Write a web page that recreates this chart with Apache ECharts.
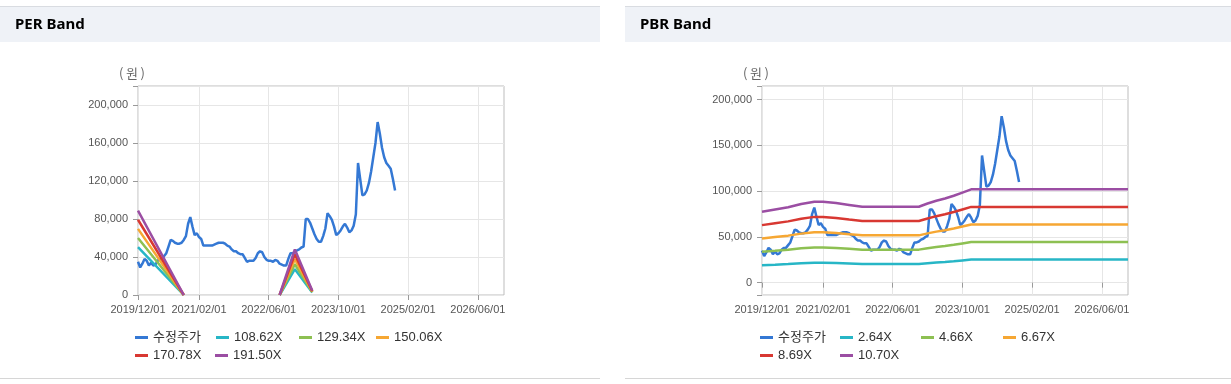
<!DOCTYPE html>
<html><head><meta charset="utf-8">
<script src="https://cdn.jsdelivr.net/npm/echarts@6/dist/echarts.min.js"></script>
<style>html,body{margin:0;padding:0;background:#fff;}#c{width:1231px;height:384px;}</style>
</head><body><div id="c"></div>
<script>
// ---- categories: half-month steps from 2019/12/01 to 2026/12/01 ----
const dates = [];
for (let y = 2019, m = 12; ; ) {
  const mm = String(m).padStart(2, '0');
  dates.push(y + '/' + mm + '/01');
  if (y === 2026 && m === 12) break;
  dates.push(y + '/' + mm + '/16');
  m++; if (m > 12) { m = 1; y++; }
}
const xTickLabels = ['2019/12/01','2021/02/01','2022/06/01','2023/10/01','2025/02/01','2026/06/01'];

// ---- adjusted price (수정주가), one value per half month from 2019/12/01 ----
const price = [
 35000,29000,33000,38000,36000,31000,34000,31000,32000,36000,
 38000,38000,41000,44000,51000,58000,57000,55000,54000,54000,
 55000,58000,62000,75000,82000,72000,63000,65000,61000,59000,
 52000,52000,52000,52000,52000,53000,54000,55000,55000,55000,
 54000,52000,51000,48000,46000,46000,44000,43000,43000,39000,
 35000,36000,36000,36000,39000,44000,46000,45000,40000,37000,
 36000,36000,35000,37000,36000,33000,32000,31000,31000,38000,
 44000,44000,45000,47000,48000,50000,51000,80000,80000,76000,
 70000,64000,59000,56000,56000,62000,70000,86000,83000,79000,
 72000,63000,65000,68000,72000,75000,71000,66000,68000,73000,
 85000,139000,122000,105000,106000,110000,118000,130000,145000,160000,
 182000,170000,155000,145000,139000,136000,133000,122000,110000
];

// ---- PER band (sparse points) ----
const perDates = ['2019/12/01','2020/10/16','2021/06/01','2022/08/16','2022/12/01','2023/04/01'];
const per108 = [50400, 0, null, 0, 27200, 2600];
const per129 = [60000, 0, null, 0, 32400, 3100];
const per150 = [69600, 0, null, 0, 37600, 3600];
const per170 = [79200, 0, null, 0, 42800, 4100];
const per191 = [88800, 0, null, 0, 48000, 4600];
const perNames = ['108.62X','129.34X','150.06X','170.78X','191.50X'];

// ---- PBR band (sparse points) ----
const pbrDates = ['2019/12/01','2020/03/01','2020/06/01','2020/09/01','2020/12/01','2021/02/01','2021/05/01','2021/08/01','2021/11/01','2022/12/01','2023/02/01','2023/04/01','2023/06/01','2023/08/01','2023/10/01','2023/12/01','2026/12/01'];
const pbr264 = [19100,19700,20400,21200,21800,21800,21500,21000,20500,20500,21300,22100,22700,23400,24300,25200,25200];
const pbr466 = [33800,34800,35900,37500,38500,38500,37900,37000,36100,36100,37700,39000,40100,41400,42900,44400,44400];
const pbr667 = [48300,49900,51400,53600,55200,55200,54200,53000,51700,51700,53900,55800,57400,59200,61400,63600,63600];
const pbr869 = [62900,65000,67000,69800,71900,71900,70700,69000,67400,67400,70200,72700,74700,77200,80000,82800,82800];
const pbr1070 = [77500,80000,82500,86000,88500,88500,87000,85000,83000,83000,86500,89500,92000,95000,98500,102000,102000];
const pbrNames = ['2.64X','4.66X','6.67X','8.69X','10.70X'];

const priceName = '수정주가';
const bandColors = ['#27b6c6','#8dc052','#f6a733','#d83832','#9b4ea3'];
const priceColor = '#3478d4';
const LW = 2.5;

const FONT = '"Liberation Sans", "Noto Sans CJK KR", sans-serif';
const fmt = v => String(v).replace(/\B(?=(\d{3})+(?!\d))/g, ',');
const tickFn = (i, v) => xTickLabels.indexOf(v) >= 0;

function zip(ds, vs) { return ds.map((d, i) => [d, vs[i]]); }

const chart = echarts.init(document.getElementById('c'), null, {renderer: 'canvas'});

function xAxis(gi) {
  return {
    type: 'category', gridIndex: gi, data: dates, boundaryGap: false,
    axisLine: {show: false},
    axisTick: {show: true, interval: tickFn, length: 5, lineStyle: {color: '#999'}},
    axisLabel: {interval: tickFn, color: '#555', fontSize: 11, fontFamily: FONT, margin: 9},
    splitLine: {show: true, interval: tickFn, lineStyle: {color: '#e6e6e6', width: 1}}
  };
}
function yAxis(gi, min, max, interval, step) {
  const o = {
    type: 'value', gridIndex: gi, min: min, max: max,
    axisLine: {show: false},
    axisTick: {show: true, length: 5, lineStyle: {color: '#999'}},
    axisLabel: {color: '#555', fontSize: 11, fontFamily: FONT, margin: 10,
      formatter: v => (v >= 0 && v % step === 0 && v <= 200000) ? fmt(v) : ''},
    splitLine: {show: true, lineStyle: {color: '#e6e6e6', width: 1}}
  };
  if (interval) o.interval = interval;
  return o;
}

const series = [];
series.push({name: priceName, type: 'line', xAxisIndex: 0, yAxisIndex: 0, data: price,
  showSymbol: false, symbol: 'none', lineStyle: {width: LW, color: priceColor}, itemStyle: {color: priceColor}});
[per108, per129, per150, per170, per191].forEach((arr, i) => {
  series.push({name: perNames[i], type: 'line', xAxisIndex: 0, yAxisIndex: 0, data: zip(perDates, arr),
    showSymbol: false, symbol: 'none', connectNulls: false,
    lineStyle: {width: LW, color: bandColors[i]}, itemStyle: {color: bandColors[i]}});
});
series.push({name: priceName, type: 'line', xAxisIndex: 1, yAxisIndex: 1, data: price,
  showSymbol: false, symbol: 'none', lineStyle: {width: LW, color: priceColor}, itemStyle: {color: priceColor}});
[pbr264, pbr466, pbr667, pbr869, pbr1070].forEach((arr, i) => {
  series.push({name: pbrNames[i], type: 'line', xAxisIndex: 1, yAxisIndex: 1, data: zip(pbrDates, arr),
    showSymbol: false, symbol: 'none',
    lineStyle: {width: LW, color: bandColors[i]}, itemStyle: {color: bandColors[i]}});
});

function leg(name, x, y) {
  return {data: [name], left: x, top: y, padding: 0, icon: 'rect', itemWidth: 13, itemHeight: 3,
    selectedMode: false, textStyle: {fontSize: 13, color: '#333', fontFamily: FONT}};
}
const r1 = 331, r2 = 349;
const legends = [
  leg(priceName, 135, r1), leg(perNames[0], 216, r1), leg(perNames[1], 299, r1), leg(perNames[2], 376, r1),
  leg(perNames[3], 135, r2), leg(perNames[4], 215, r2),
  leg(priceName, 760, r1), leg(pbrNames[0], 840, r1), leg(pbrNames[1], 921, r1), leg(pbrNames[2], 1003, r1),
  leg(pbrNames[3], 760, r2), leg(pbrNames[4], 840, r2)
];

function panel(x0, w, title) {
  return [
    {type: 'rect', shape: {x: x0, y: 7, width: w, height: 35}, style: {fill: '#eff2f7'}, silent: true, z: -10},
    {type: 'line', shape: {x1: x0, y1: 6.5, x2: x0 + w, y2: 6.5}, style: {stroke: '#d9dce1', lineWidth: 1}, silent: true},
    {type: 'line', shape: {x1: x0, y1: 378.5, x2: x0 + w, y2: 378.5}, style: {stroke: '#d6d6d6', lineWidth: 1}, silent: true},
    {type: 'text', x: x0 + 15, y: 25, style: {text: title, fill: '#000', font: 'bold 15px "Noto Sans", "Noto Sans CJK KR", sans-serif', verticalAlign: 'middle'}, silent: true}
  ];
}
const unitText = '(\u2009원\u2009)';
const graphics = [].concat(
  panel(0, 600, 'PER Band'),
  panel(625, 606, 'PBR Band'),
  [
    {type: 'text', x: 132, y: 73, style: {text: unitText, fill: '#666', font: '13px "Noto Sans CJK KR", sans-serif', align: 'center', verticalAlign: 'middle'}, silent: true},
    {type: 'text', x: 756, y: 73, style: {text: unitText, fill: '#666', font: '13px "Noto Sans CJK KR", sans-serif', align: 'center', verticalAlign: 'middle'}, silent: true}
  ]
);

chart.setOption({
  animation: false,
  backgroundColor: '#fff',
  graphic: graphics,
  grid: [
    {left: 138, top: 86, width: 366, height: 209, show: true, borderColor: '#bdbdbd', borderWidth: 1, backgroundColor: 'transparent', containLabel: false, outerBoundsMode: 'none'},
    {left: 762, top: 86, width: 366, height: 209, show: true, borderColor: '#bdbdbd', borderWidth: 1, backgroundColor: 'transparent', containLabel: false, outerBoundsMode: 'none'}
  ],
  xAxis: [xAxis(0), xAxis(1)],
  yAxis: [yAxis(0, 0, 220000, 40000, 40000), yAxis(1, -13500, 215000, null, 50000)],
  legend: legends,
  series: series
});
</script></body></html>
